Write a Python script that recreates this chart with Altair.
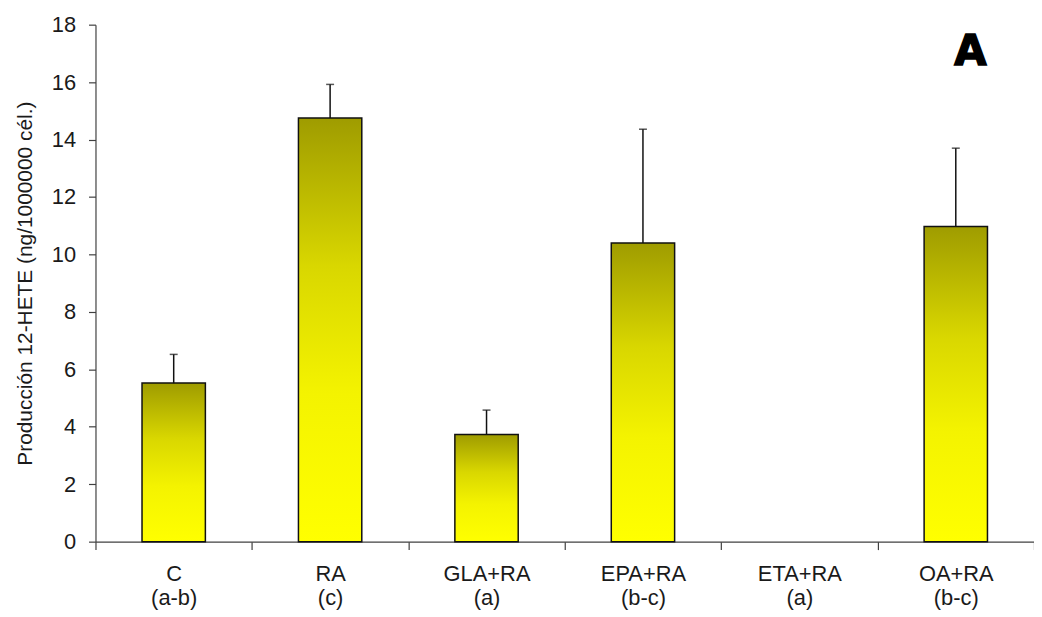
import altair as alt
import pandas as pd

categories = ["C|(a-b)", "RA|(c)", "GLA+RA|(a)", "EPA+RA|(b-c)", "ETA+RA|(a)", "OA+RA|(b-c)"]
means = [5.52, 14.75, 3.73, 10.4, None, 10.97]
upper = [6.52, 15.92, 4.58, 14.36, None, 13.7]

df = pd.DataFrame({"cat": categories, "mean": means, "hi": upper})
bars_df = df.dropna()

xscale = alt.Scale(domain=categories, paddingInner=0, paddingOuter=0)
font = "Liberation Sans"

gradient = alt.Gradient(
    gradient="linear",
    stops=[
        alt.GradientStop(color="#9f9c00", offset=0),
        alt.GradientStop(color="#d9d700", offset=0.35),
        alt.GradientStop(color="#f4f300", offset=0.65),
        alt.GradientStop(color="#ffff00", offset=1),
    ],
    x1=0, x2=0, y1=0, y2=1,
)

x_enc = alt.X(
    "cat:N",
    scale=xscale,
    sort=categories,
    axis=alt.Axis(
        title=None,
        labelAngle=0,
        labelExpr="split(datum.label, '|')",
        labelLineHeight=24,
        labelPadding=14,
        labelBaseline="top",
        tickBand="extent",
        tickSize=8,
    ),
)

y_enc = alt.Y(
    "mean:Q",
    scale=alt.Scale(domain=[0, 18], nice=False),
    axis=alt.Axis(
        title="Producción 12-HETE (ng/1000000 cél.)",
        titlePadding=16,
        values=list(range(0, 19, 2)),
        labelPadding=13,
        tickSize=7,
        grid=False,
    ),
)

bars = alt.Chart(bars_df).mark_bar(
    color=gradient, stroke="#111111", strokeWidth=1.5,
    width=alt.RelativeBandSize(0.405),
).encode(x=x_enc, y=y_enc)

err = alt.Chart(bars_df).mark_rule(color="#111111", strokeWidth=1.5).encode(
    x=alt.X("cat:N", scale=xscale, sort=categories),
    y="mean:Q",
    y2="hi:Q",
)

caps = alt.Chart(bars_df).mark_tick(
    color="#111111", thickness=1.5, size=8
).encode(
    x=alt.X("cat:N", scale=xscale, sort=categories),
    y="hi:Q",
)

label_a = alt.Chart(pd.DataFrame({"t": ["A"]})).mark_text(
    font="DejaVu Sans", fontSize=42, fontWeight="bold", color="black",
    stroke="black", strokeWidth=1.5,
    align="center", baseline="middle"
).encode(text="t:N", x=alt.value(880), y=alt.value(28))

chart = alt.layer(bars, err, caps, label_a).properties(
    width=944,
    height=520,
    autosize=alt.AutoSizeParams(type="none"),
    padding={"left": 88, "top": 15, "right": 0, "bottom": 70},
).configure_view(stroke=None).configure_axis(
    domainWidth=1.2, tickWidth=1.2,
    domainColor="#404040", tickColor="#404040",
    labelFont=font, labelFontSize=22, labelColor="#1a1a1a",
    titleFont=font, titleFontSize=21, titleFontWeight="normal", titleColor="#1a1a1a",
)

chart.save("out.html", embed_options={"renderer": "svg", "actions": False})
